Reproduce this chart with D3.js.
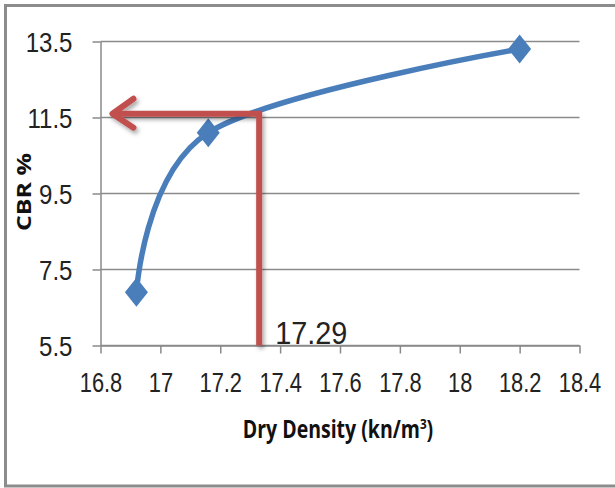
<!DOCTYPE html>
<html>
<head>
<meta charset="utf-8">
<script src="https://cdn.jsdelivr.net/npm/d3@7"></script>
<style>
  html, body { margin: 0; padding: 0; background: #fff; }
  svg { display: block; }
</style>
</head>
<body>
<div id="mainDiv"></div>
<script>
'use strict';

// values
var dryDensity = [16.92, 17.16, 18.2];
var cbrValues  = [6.9, 11.1, 13.3];
var xTicks = [16.8, 17, 17.2, 17.4, 17.6, 17.8, 18, 18.2, 18.4];
var yTicks = [5.5, 7.5, 9.5, 11.5, 13.5];

// the red reading arrow: vertical at the read density, horizontal to the CBR axis
var readDensity = [17.33];
var readCbr = [11.6];
var arrowTip = [16.84];
var readLabel = '17.29';

var myApp = {};

myApp.W = 615;
myApp.H = 488;

myApp.appendSvg = function(div)
{
    var node = d3.select(div).append('svg')
        .attr('width', myApp.W)
        .attr('height', myApp.H);

    var f = node.append('defs').append('filter')
        .attr('id', 'shadow')
        .attr('x', '-20%').attr('y', '-20%')
        .attr('width', '140%').attr('height', '140%');
    f.append('feDropShadow')
        .attr('dx', 2).attr('dy', 3)
        .attr('stdDeviation', 2)
        .attr('flood-color', '#000')
        .attr('flood-opacity', 0.35);

    return node;
}

myApp.run = function()
{
    var svg = myApp.appendSvg('#mainDiv');

    // outer frame (right side falls outside the picture)
    svg.append('path')
        .attr('d', 'M' + (myApp.W + 5) + ',5.5 H5.5 V486 H' + (myApp.W + 5))
        .attr('fill', 'none')
        .attr('stroke', '#8c8c8c')
        .attr('stroke-width', 3);

    var x = d3.scaleLinear().domain([16.8, 18.4]).range([100.5, 579.5]);
    var y = d3.scaleLinear().domain([5.5, 13.5]).range([345.5, 41.5]);

    var grey = '#8a8a8a';

    // horizontal gridlines
    svg.append('g').selectAll('line')
        .data(yTicks)
        .enter()
        .append('line')
        .attr('x1', x(16.8)).attr('x2', x(18.4))
        .attr('y1', function(d){ return y(d); })
        .attr('y2', function(d){ return y(d); })
        .attr('stroke', grey)
        .attr('stroke-width', 1.5);

    // x axis
    var gx = svg.append('g')
        .attr('transform', 'translate(0,' + y(5.5) + ')')
        .call(d3.axisBottom(x).tickValues(xTicks).tickSize(8).tickSizeOuter(0)
            .tickFormat(function(d){ return String(d); }));
    gx.select('.domain').attr('stroke', grey).attr('stroke-width', 1.5);
    gx.selectAll('.tick line').attr('stroke', grey).attr('stroke-width', 1.5);
    gx.selectAll('.tick text')
        .attr('y', 0).attr('dy', 0)
        .attr('transform', 'translate(0,46) scale(0.78,1)')
        .attr('fill', '#222')
        .style('font-family', '"Liberation Sans", Arial, sans-serif')
        .style('font-size', '28px');

    // y axis
    var gy = svg.append('g')
        .attr('transform', 'translate(' + x(16.8) + ',0)')
        .call(d3.axisLeft(y).tickValues(yTicks).tickSize(8).tickSizeOuter(0)
            .tickFormat(d3.format('.1f')));
    gy.select('.domain').attr('stroke', grey).attr('stroke-width', 1.5);
    gy.selectAll('.tick line').attr('stroke', grey).attr('stroke-width', 1.5);
    gy.selectAll('.tick text')
        .attr('x', 0).attr('dy', '0.36em')
        .attr('transform', 'translate(-28,0) scale(0.86,1)')
        .attr('fill', '#222')
        .style('font-family', '"Liberation Sans", Arial, sans-serif')
        .style('font-size', '28px');

    // axis titles (bold, squeezed like the original)
    var xt = svg.append('text')
        .attr('transform', 'translate(338,438) scale(0.78,1)')
        .attr('text-anchor', 'middle')
        .style('font-family', '"Open Sans", sans-serif')
        .style('font-weight', 700)
        .style('font-size', '25px')
        .attr('fill', '#111');
    xt.append('tspan').text('Dry Density (kn/m');
    xt.append('tspan').attr('dy', -9).style('font-size', '15px').text('3');
    xt.append('tspan').attr('dy', 9).text(')');

    svg.append('text')
        .attr('transform', 'translate(31,192) scale(0.78,1) rotate(-90)')
        .attr('text-anchor', 'middle')
        .style('font-family', '"Open Sans", sans-serif')
        .style('font-weight', 700)
        .style('font-size', '25px')
        .attr('fill', '#111')
        .text('CBR %');

    // series line, smoothed like Excel
    var pts = dryDensity.map(function(d, i){ return [d, cbrValues[i]]; });
    var line = d3.line()
        .x(function(d){ return x(d[0]); })
        .y(function(d){ return y(d[1]); })
        .curve(d3.curveCardinal.tension(0));

    svg.append('path')
        .datum(pts)
        .attr('d', line)
        .attr('fill', 'none')
        .attr('stroke', '#4a7ebb')
        .attr('stroke-width', 5.5)
        .attr('stroke-linecap', 'round');

    // diamond markers
    svg.append('g').selectAll('path')
        .data(pts)
        .enter()
        .append('path')
        .attr('transform', function(d){ return 'translate(' + x(d[0]) + ',' + y(d[1]) + ')'; })
        .attr('d', 'M0,-14.5 L11.5,0 L0,14.5 L-11.5,0 Z')
        .attr('fill', '#4a7ebb');

    // red reading arrow
    var red = svg.append('g')
        .attr('filter', 'url(#shadow)')
        .attr('fill', 'none')
        .attr('stroke', '#c0504d')
        .attr('stroke-width', 6);

    var cx = x(readDensity[0]), cy = y(readCbr[0]), tx = x(arrowTip[0]);
    red.append('path')
        .attr('d', 'M' + cx + ',' + y(5.5) + ' V' + cy + ' H' + (tx + 2))
        .attr('stroke-linejoin', 'miter');
    red.append('path')
        .attr('d', 'M' + (tx + 21) + ',' + (cy - 15) + ' L' + tx + ',' + cy + ' L' + (tx + 21) + ',' + (cy + 14))
        .attr('stroke-linecap', 'round')
        .attr('stroke-linejoin', 'round');

    svg.append('text')
        .attr('transform', 'translate(' + (cx + 16) + ',343.5) scale(0.93,1)')
        .attr('fill', '#222')
        .style('font-family', '"Liberation Sans", Arial, sans-serif')
        .style('font-size', '31px')
        .text(readLabel);
}

window.myApp = myApp;
myApp.run();
</script>
</body>
</html>
